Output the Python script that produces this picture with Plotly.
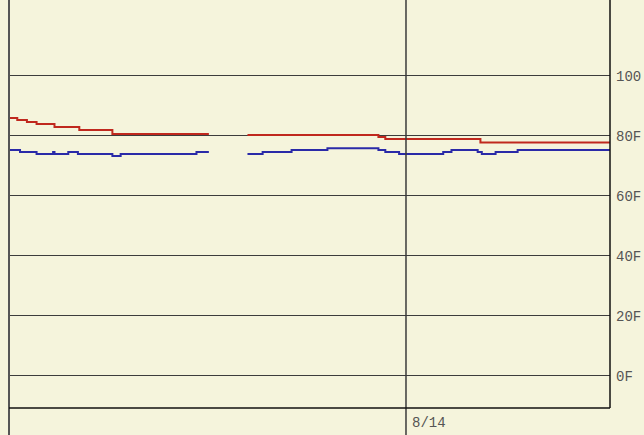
import plotly.graph_objects as go

# Temperature (red) change points
temp_times = ["2024-08-13 00:00", "2024-08-13 00:30", "2024-08-13 01:05", "2024-08-13 01:40",
              "2024-08-13 02:45", "2024-08-13 04:15", "2024-08-13 06:15", "2024-08-13 12:05",
              "2024-08-13 13:00",
              "2024-08-13 14:25", "2024-08-13 22:20", "2024-08-13 22:45", "2024-08-14 04:30",
              "2024-08-14 12:20"]
temp_vals = [86.0, 85.3, 84.7, 84.0, 83.0, 82.0, 80.7, 80.7,
             None,
             80.3, 79.7, 79.0, 77.8, 77.8]

# Dew point (blue) change points
dew_times = ["2024-08-13 00:00", "2024-08-13 00:40", "2024-08-13 01:40", "2024-08-13 02:40",
             "2024-08-13 02:45", "2024-08-13 03:35", "2024-08-13 04:10", "2024-08-13 06:15",
             "2024-08-13 06:45", "2024-08-13 11:20", "2024-08-13 12:05",
             "2024-08-13 13:00",
             "2024-08-13 14:25", "2024-08-13 15:20", "2024-08-13 17:05", "2024-08-13 19:15",
             "2024-08-13 22:20", "2024-08-13 22:45", "2024-08-13 23:35", "2024-08-14 02:15",
             "2024-08-14 02:45", "2024-08-14 04:20", "2024-08-14 04:35", "2024-08-14 05:25",
             "2024-08-14 06:45", "2024-08-14 12:20"]
dew_vals = [75.3, 74.7, 74.0, 74.7, 74.0, 74.7, 74.0, 73.3, 74.0, 74.7, 74.7,
            None,
            74.0, 74.7, 75.3, 75.9, 75.3, 74.7, 74.0, 74.7, 75.3, 74.7, 74.0, 74.7, 75.3, 75.3]

y_ticks = [0, 20, 40, 60, 80, 100]
y_labels = ["0F", "20F", "40F", "60F", "80F", "100"]
x_day = "2024-08-14 00:00"
x_day_label = "8/14"
x_range = ["2024-08-13 00:00", "2024-08-14 12:20"]
y_range = [-10.67, 125.33]

BG = "#F5F4DC"
FONT = "Liberation Mono"

fig = go.Figure()
fig.add_trace(go.Scatter(x=temp_times, y=temp_vals, mode="lines", line=dict(color="#C0281E", width=2, shape="hv"),
                         connectgaps=False, showlegend=False, hoverinfo="skip"))
fig.add_trace(go.Scatter(x=dew_times, y=dew_vals, mode="lines", line=dict(color="#2A2AA8", width=2, shape="hv"),
                         connectgaps=False, showlegend=False, hoverinfo="skip"))

fig.update_layout(
    width=644, height=435,
    margin=dict(l=9, r=34, t=0, b=27),
    paper_bgcolor=BG, plot_bgcolor=BG,
    xaxis=dict(type="date", range=x_range, showgrid=False, zeroline=False, showticklabels=False,
               showline=False, ticks=""),
    yaxis=dict(range=y_range, tickvals=y_ticks, ticktext=y_labels, side="right",
               showgrid=True, gridcolor="#3c3c3c", gridwidth=1, zeroline=False,
               showline=False, ticks="", ticklabelstandoff=5,
               tickfont=dict(family=FONT, size=14, color="#555555")),
)

# vertical day line extending below plot
fig.add_shape(type="line", xref="x", yref="paper", x0=x_day, x1=x_day, y0=-27/408, y1=1,
              line=dict(color="#3a3a3a", width=1.5))
# left border extending below
fig.add_shape(type="line", xref="paper", yref="paper", x0=0, x1=0, y0=-27/408, y1=1,
              line=dict(color="#555555", width=2))
# right border
fig.add_shape(type="line", xref="paper", yref="paper", x0=1, x1=1, y0=0, y1=1,
              line=dict(color="#111111", width=1.5))
# bottom border
fig.add_shape(type="line", xref="paper", yref="paper", x0=0, x1=1, y0=0, y1=0,
              line=dict(color="#111111", width=1.5))

fig.add_annotation(x=x_day, y=0, xref="x", yref="paper", text=x_day_label, showarrow=False,
                   xanchor="left", yanchor="top", xshift=4, yshift=-5,
                   font=dict(family=FONT, size=14, color="#555555"))

fig.write_html("out.html", config={"displayModeBar": False},
               post_script="document.body.style.margin='0';document.body.style.background='" + BG + "';")
